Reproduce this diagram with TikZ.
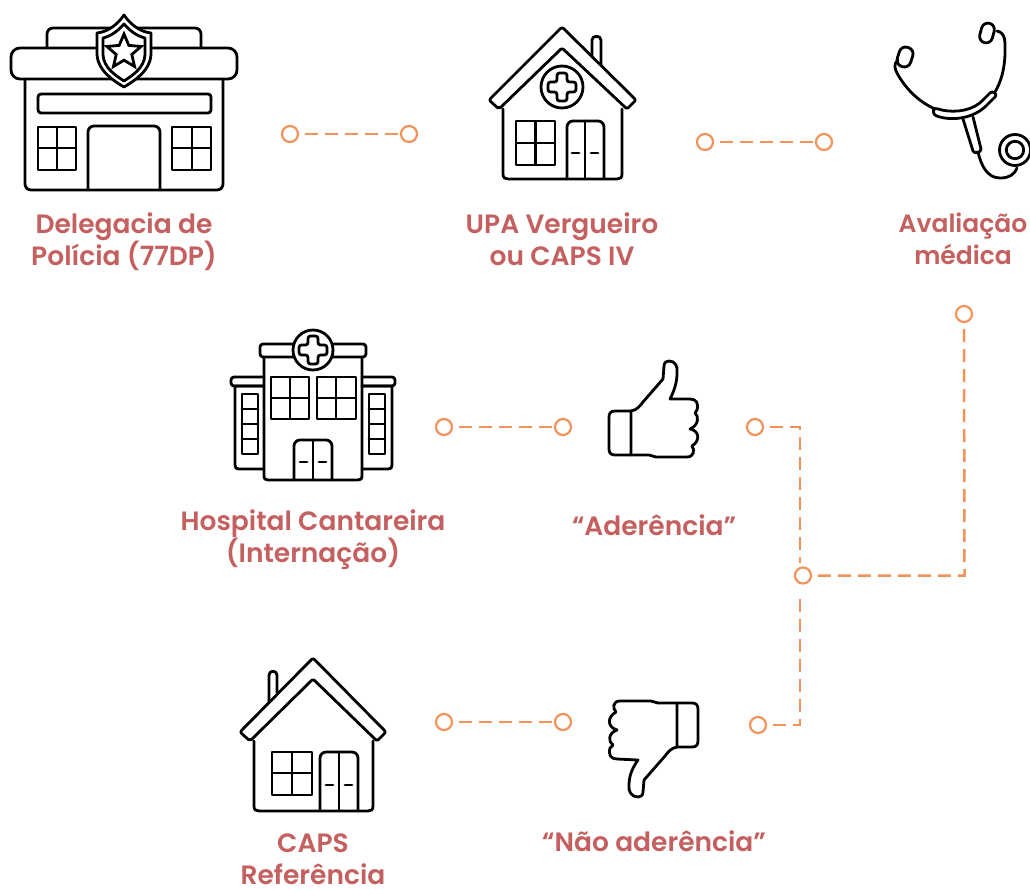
\documentclass[tikz,border=0pt]{standalone}
\usepackage{fontspec}
\newfontfamily\lab{Poppins SemiBold}
\usetikzlibrary{shapes.geometric}
\definecolor{linkc}{HTML}{F2935C}
\definecolor{labc}{HTML}{C4605F}
\tikzset{
 icon/.style={draw=black,line width=2.8pt,line join=round,line cap=round},
 hole/.style={icon,fill=white},
 pin/.style={circle,draw=linkc,line width=2.2pt,fill=white,minimum size=16pt,inner sep=0pt},
 dashline/.style={draw=linkc,line width=2.5pt,dash pattern=on 13pt off 7pt},
 lbl/.style={text=labc,font=\lab\fontsize{26.5}{32}\selectfont,align=center,inner sep=0pt}
}
\newcommand{\medcross}[4]{\draw[icon,rounded corners=2.5pt,shift={(#1,#2)}] (-#4,-#3) -- (#4,-#3) -- (#4,-#4) -- (#3,-#4) -- (#3,#4) -- (#4,#4) -- (#4,#3) -- (-#4,#3) -- (-#4,#4) -- (-#3,#4) -- (-#3,-#4) -- (-#4,-#4) -- cycle;}
\newcommand{\winpane}[6]{\draw[icon,line cap=butt] (#1,#2) rectangle (#3,#4) (#5,#2) -- (#5,#4) (#1,#6) -- (#3,#6);}
\newcommand{\dbldoor}[6]{\draw[icon,rounded corners=6pt] (#1,#4) -- (#1,#2) -- (#3,#2) -- (#3,#4); \draw[icon] (#1,#4) -- (#3,#4) (#5,#2) -- (#5,#4) (#5-13,#6) -- (#5-6,#6) (#5+6,#6) -- (#5+13,#6);}
\begin{document}
\begin{tikzpicture}[x=1pt,y=-1pt]
\useasboundingbox[fill=white] (0,0) rectangle (1030,889);
% Delegacia
\draw[icon,rounded corners=6pt] (47,48) -- (47,28) -- (201,28) -- (201,48);
\draw[icon,rounded corners=9pt] (11,48) rectangle (237,79);
\draw[icon,rounded corners=6pt] (25,79) -- (25,190) -- (223,190) -- (223,79);
\draw[icon,rounded corners=3pt] (38,94) rectangle (211,113);
\winpane{38}{127}{76}{170}{57}{148}
\winpane{172}{127}{211}{170}{192}{148}
\draw[icon,rounded corners=6pt] (88,190) -- (88,126) -- (160,126) -- (160,190);
\draw[hole] (124,15) .. controls (118,24) and (108,32) .. (97,33) -- (97,55) .. controls (98,70) and (112,80) .. (124,87) .. controls (136,80) and (150,70) .. (151,55) -- (151,33) .. controls (140,32) and (130,24) .. (124,15) -- cycle;
\draw[icon] (124,24) .. controls (118,31) and (111,36) .. (103,38) -- (103,55) .. controls (104,68) and (115,75) .. (124,81) .. controls (133,75) and (144,68) .. (145,55) -- (145,38) .. controls (137,36) and (130,31) .. (124,24) -- cycle;
\node[star,star points=5,star point ratio=2.2,draw=black,line width=2.8pt,minimum size=36pt,inner sep=0pt] (badge) at (124,52) {};
% UPA
\draw[icon] (592,58) -- (592,40) .. controls (592,35) and (601,35) .. (601,40) -- (601,67);
\draw[icon] (503,109) -- (503,174) .. controls (503,178) and (505,179) .. (508,179) -- (617,179) .. controls (620,179) and (622,178) .. (622,174) -- (622,109);
\draw[hole,rounded corners=2pt] (562,27) -- (636,100) -- (627,109) -- (562,48) -- (499,109) -- (489,100) -- cycle;
\draw[icon] (562,87) circle (21);
\medcross{562}{87}{14}{5}
\winpane{516}{121}{555}{165}{535.5}{143}
\dbldoor{567}{121}{604}{179}{585}{153}
% Stethoscope
\draw[icon,rotate around={-15:(987,33)},rounded corners=6.5pt] (980.5,23) rectangle (993.5,43);
\draw[icon,rotate around={-18:(905,57)},rounded corners=6.5pt] (898,47) rectangle (912,67);
\draw[icon] (997,31) .. controls (1006,33) and (1005,42) .. (1005,52) .. controls (1005,68) and (1001,82) .. (995,92);
\draw[icon] (898,60) .. controls (893,64) and (895,69) .. (897,73) .. controls (905,88) and (918,101) .. (933,108);
\draw[icon,rounded corners=2.5pt] (935,108) .. controls (950,113) and (968,112) .. (981,102) -- (992,91) -- (997,95) -- (985,107) .. controls (970,119) and (950,121) .. (934,115) -- (933,110) -- cycle;
\draw[icon] (963,119) -- (973,151) .. controls (974,154) and (981,153) .. (981,149) -- (973,117);
\draw[icon] (978,152) .. controls (981,165) and (987,178) .. (1000,178) .. controls (1009,178) and (1014,175) .. (1017,168);
\draw[icon] (1015,150) circle (15.5);
\draw[icon] (1015,150) circle (8.7);
% Hospital
\draw[icon] (264,386) -- (235,386) -- (235,465) .. controls (235,468) and (236,469) .. (239,469) -- (264,469);
\draw[icon] (362,386) -- (392,386) -- (392,465) .. controls (392,468) and (391,469) .. (388,469) -- (362,469);
\draw[icon,rounded corners=3pt] (264,377) -- (231,377) -- (231,386) -- (264,386);
\draw[icon,rounded corners=3pt] (362,377) -- (395,377) -- (395,386) -- (362,386);
\draw[icon] (264,357) -- (264,475) .. controls (264,479) and (265,480) .. (268,480) -- (358,480) .. controls (361,480) and (362,479) .. (362,475) -- (362,357);
\draw[icon,rounded corners=3pt] (260,344) rectangle (366,357);
\draw[hole] (313,350) circle (20);
\medcross{313}{350}{14}{5}
\draw[icon] (242,394) rectangle (258,454) (242,409) -- (258,409) (242,424) -- (258,424) (242,439) -- (258,439);
\draw[icon] (369,394) rectangle (385,454) (369,409) -- (385,409) (369,424) -- (385,424) (369,439) -- (385,439);
\winpane{271}{377}{309}{419}{290}{398}
\winpane{317}{377}{356}{419}{336}{398}
\dbldoor{294}{440}{332}{480}{313}{462}
% Thumb up
\draw[icon] (631,411) -- (615,411) .. controls (611,411) and (609,413) .. (609,417) -- (609,449) .. controls (609,453) and (611,455) .. (615,455) -- (631,455) -- cycle;
\draw[icon] (631,411) .. controls (637,410) and (640,406) .. (643,402) -- (663,379) -- (664,366) .. controls (664,362) and (667,361) .. (669,361) .. controls (675,361) and (678,366) .. (677,373) .. controls (677,383) and (674,391) .. (670,399) -- (690,399) .. controls (696,399) and (699,403) .. (697,410) .. controls (696,412) and (696,412) .. (695,413) .. controls (699,416) and (699,425) .. (690,429) .. controls (700,431) and (700,441) .. (692,446) .. controls (695,450) and (694,457) .. (687,457) -- (656,457) .. controls (653,457) and (652,455) .. (649,455) -- (631,455);
% Thumb down
\draw[icon] (677,703) -- (692,703) .. controls (696,703) and (698,705) .. (698,709) -- (698,741) .. controls (698,745) and (696,747) .. (692,747) -- (677,747) -- cycle;
\draw[icon] (677,747) .. controls (671,748) and (668,752) .. (665,756) -- (644,780) -- (643,792) .. controls (643,796) and (640,797) .. (638,797) .. controls (632,797) and (628,792) .. (629,785) .. controls (629,775) and (633,767) .. (638,760) -- (617,759) .. controls (611,759) and (608,755) .. (610,748) .. controls (611,746) and (611,746) .. (613,745) .. controls (608,742) and (608,733) .. (617,730) .. controls (607,727) and (607,717) .. (616,712) .. controls (612,708) and (613,701) .. (620,701) -- (651,701) .. controls (654,701) and (655,703) .. (658,703) -- (677,703);
% CAPS
\draw[icon] (269,702) -- (269,675) .. controls (269,670) and (277,670) .. (277,675) -- (277,693);
\draw[icon] (254,741) -- (254,806) .. controls (254,810) and (256,811) .. (259,811) -- (368,811) .. controls (371,811) and (373,810) .. (373,806) -- (373,741);
\draw[hole,rounded corners=2pt] (313,658) -- (386,732) -- (377,741) -- (313,679) -- (250,741) -- (240,732) -- cycle;
\winpane{272}{752}{312}{795}{292}{773}
\dbldoor{320}{752}{358}{811}{339}{785}
% Labels
\node[lbl] (t1) at (124,241.5) {Delegacia de\\Polícia (77DP)};
\node[lbl] (t2) at (562,239) {UPA Vergueiro\\ou CAPS IV};
\node[lbl,font=\lab\fontsize{25}{32}\selectfont] (t3) at (963,239) {Avaliação\\médica};
\node[lbl] (t4) at (313,540) {Hospital Cantareira\\(Internação)};
\node[lbl] (t5) at (654,525) {“Aderência”};
\node[lbl] (t6) at (313,859.5) {CAPS\\Referência};
\node[lbl] (t7) at (654,841) {“Não aderência”};
% Connector pins
\node[pin] (a1) at (290,134) {};
\node[pin] (a2) at (409,134) {};
\node[pin] (b1) at (705,142) {};
\node[pin] (b2) at (824,142) {};
\node[pin] (c1) at (964,314) {};
\node[pin] (d1) at (444,427) {};
\node[pin] (d2) at (563,427) {};
\node[pin] (e1) at (755,427) {};
\node[pin] (j) at (803,575.5) {};
\node[pin] (f1) at (444,722) {};
\node[pin] (f2) at (563,722) {};
\node[pin] (g1) at (758,725) {};
\coordinate (k1) at (800,427);
\coordinate (k2) at (800,725);
\coordinate (k3) at (964.5,575.5);
\coordinate (jt) at (800,563);
\coordinate (jb) at (800,594);
\draw[dashline,shorten <=6pt] (a1) -- (a2);
\draw[dashline,shorten <=6pt] (b1) -- (b2);
\draw[dashline,shorten <=6pt] (d1) -- (d2);
\draw[dashline,shorten <=6pt] (f1) -- (f2);
\draw[dashline,shorten <=6pt] (c1) -- (k3) -- (j);
\draw[dashline,shorten <=6pt] (e1) -- (k1) -- (jt);
\draw[dashline,shorten <=6pt] (g1) -- (k2) -- (jb);
\end{tikzpicture}
\end{document}
